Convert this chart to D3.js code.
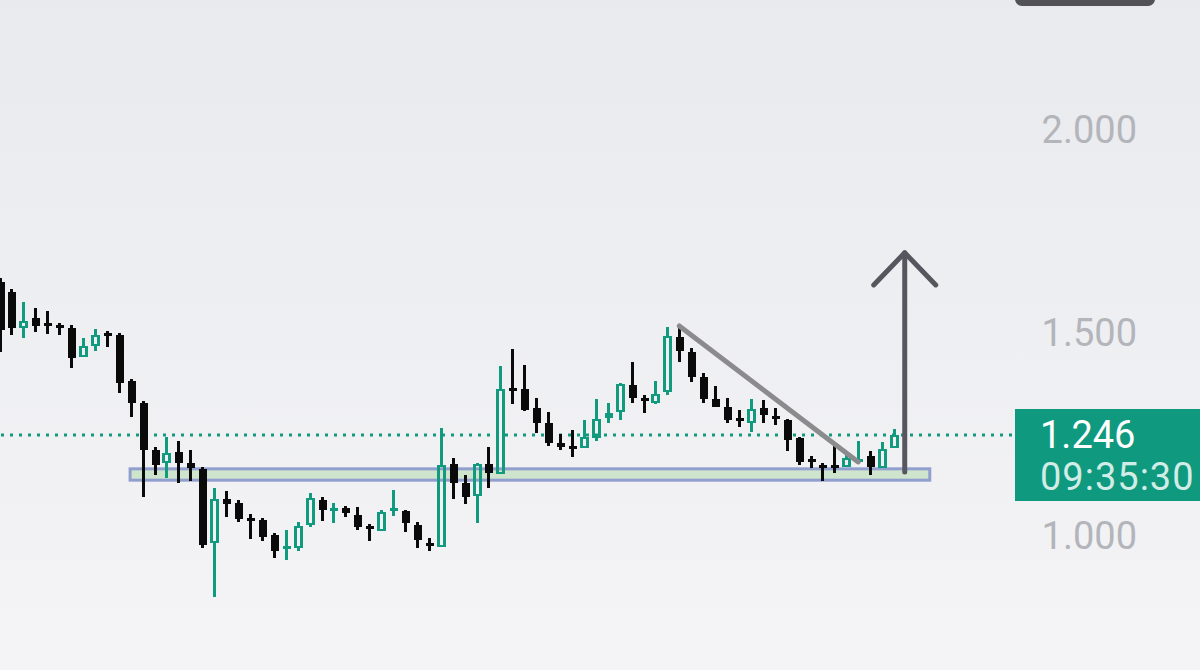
<!DOCTYPE html>
<html>
<head>
<meta charset="utf-8">
<script src="https://cdn.jsdelivr.net/npm/d3@7"></script>
<style>
  html, body { margin: 0; padding: 0; }
  body { width: 1200px; height: 670px; overflow: hidden; }
</style>
</head>
<body>
<svg id="chart" width="1200" height="670"></svg>
<script>
// candle values (one per bar, left to right)
const open = [
  1.623, 1.599, 1.510, 1.534, 1.520, 1.517, 1.510, 1.438, 1.466, 1.498,
  1.493, 1.379, 1.325, 1.209, 1.177, 1.204, 1.177, 1.163, 0.980, 1.089,
  1.079, 1.042, 1.037, 1.000, 0.966, 0.968, 1.025, 1.086, 1.059, 1.067,
  1.049, 1.020, 1.010, 1.059, 1.059, 1.025, 0.980, 0.970, 1.175, 1.128,
  1.096, 1.175, 1.150, 1.362, 1.360, 1.313, 1.276, 1.227, 1.219, 1.214,
  1.239, 1.288, 1.303, 1.369, 1.337, 1.325, 1.352, 1.488, 1.451, 1.389,
  1.335, 1.315, 1.286, 1.276, 1.313, 1.291, 1.283, 1.239, 1.187, 1.172,
  1.170, 1.167, 1.182, 1.195, 1.165, 1.214
];
const high = [
  1.633, 1.606, 1.574, 1.559, 1.552, 1.522, 1.517, 1.485, 1.507, 1.502,
  1.498, 1.384, 1.330, 1.217, 1.241, 1.232, 1.209, 1.167, 1.116, 1.108,
  1.086, 1.052, 1.042, 1.005, 1.012, 1.032, 1.103, 1.094, 1.079, 1.071,
  1.069, 1.027, 1.062, 1.111, 1.062, 1.032, 0.993, 1.264, 1.190, 1.148,
  1.177, 1.217, 1.416, 1.458, 1.419, 1.337, 1.303, 1.249, 1.259, 1.283,
  1.335, 1.325, 1.374, 1.426, 1.345, 1.379, 1.512, 1.515, 1.461, 1.399,
  1.367, 1.337, 1.308, 1.335, 1.333, 1.313, 1.286, 1.241, 1.195, 1.177,
  1.229, 1.207, 1.232, 1.207, 1.229, 1.261
];
const low = [
  1.451, 1.493, 1.485, 1.500, 1.495, 1.493, 1.411, 1.438, 1.453, 1.463,
  1.350, 1.291, 1.094, 1.148, 1.140, 1.128, 1.133, 0.968, 0.847, 1.044,
  1.032, 0.990, 0.985, 0.943, 0.938, 0.961, 1.020, 1.034, 1.030, 1.044,
  1.012, 0.985, 1.010, 1.047, 1.007, 0.968, 0.961, 0.970, 1.089, 1.076,
  1.030, 1.116, 1.150, 1.323, 1.305, 1.251, 1.219, 1.209, 1.192, 1.214,
  1.232, 1.276, 1.283, 1.325, 1.300, 1.323, 1.345, 1.426, 1.377, 1.325,
  1.315, 1.276, 1.266, 1.254, 1.276, 1.271, 1.207, 1.172, 1.165, 1.133,
  1.153, 1.167, 1.180, 1.148, 1.165, 1.214
];
const close = [
  1.505, 1.510, 1.527, 1.515, 1.515, 1.510, 1.436, 1.466, 1.493, 1.490,
  1.374, 1.325, 1.209, 1.172, 1.202, 1.177, 1.165, 0.975, 1.089, 1.076,
  1.039, 1.034, 0.995, 0.961, 0.970, 1.022, 1.091, 1.062, 1.067, 1.054,
  1.020, 1.017, 1.057, 1.067, 1.030, 0.988, 0.973, 1.172, 1.128, 1.094,
  1.175, 1.153, 1.360, 1.357, 1.308, 1.276, 1.227, 1.217, 1.214, 1.241,
  1.286, 1.300, 1.372, 1.337, 1.330, 1.347, 1.490, 1.453, 1.389, 1.335,
  1.315, 1.283, 1.281, 1.310, 1.296, 1.286, 1.234, 1.180, 1.182, 1.167,
  1.165, 1.190, 1.187, 1.167, 1.212, 1.246
];

// axis + price tag
const priceTicks = [1.0, 1.5, 2.0];
const lastPrice = 1.246;
const countdown = '09:35:30';

// drawings: support zone, trend line, arrow (bar index, price)
const zoneBars = [10.95, 78.0];
const zonePrices = [1.135, 1.163];
const trendStart = [57, 1.515];
const trendEnd = [72, 1.180];
const arrowBar = 75.9;
const arrowPrices = [1.155, 1.695];
const arrowWing = [2.6, 1.616];

const green = '#119a7e';
const black = '#0a0a0a';

const svg = d3.select('#chart');

// background
const defs = svg.append('defs');
const grad = defs.append('linearGradient')
  .attr('id', 'bg').attr('x1', 0).attr('y1', 0).attr('x2', 0).attr('y2', 1);
grad.append('stop').attr('offset', '0%').attr('stop-color', '#e9eaee');
grad.append('stop').attr('offset', '100%').attr('stop-color', '#f4f4f6');
svg.append('rect').attr('width', 1200).attr('height', 670).attr('fill', 'url(#bg)');

const x = d3.scaleLinear().domain([0, open.length - 1]).range([-0.5, 894]);
const y = d3.scaleLinear().domain([1.0, 2.0]).range([535, 129]);

// top toolbar stub
svg.append('rect')
  .attr('x', 1015).attr('y', -12).attr('width', 140).attr('height', 18)
  .attr('rx', 7).attr('fill', '#525256');

// support zone
svg.append('rect')
  .attr('x', x(zoneBars[0]))
  .attr('y', y(zonePrices[1]))
  .attr('width', x(zoneBars[1]) - x(zoneBars[0]))
  .attr('height', y(zonePrices[0]) - y(zonePrices[1]))
  .attr('fill', '#cfe4cc')
  .attr('stroke', '#909fce')
  .attr('stroke-width', 3);

// last price dotted line
svg.append('line')
  .attr('x1', 1).attr('x2', 1015)
  .attr('y1', y(lastPrice)).attr('y2', y(lastPrice))
  .attr('stroke', green)
  .attr('stroke-width', 3)
  .attr('stroke-dasharray', '3 6');

// candles
const data = open.map((o, i) => ({
  i, o, h: high[i], l: low[i], c: close[i], up: close[i] >= o
}));
const bodyW = 8;
const g = svg.append('g').attr('shape-rendering', 'crispEdges');

data.forEach(d => {
  const cx = Math.round(x(d.i)) + 0.5;
  const col = d.up ? green : black;
  let top = y(Math.max(d.o, d.c));
  let bot = y(Math.min(d.o, d.c));
  if (bot - top < 3) {
    const m = (top + bot) / 2;
    top = m - 1.5;
    bot = m + 1.5;
  }
  // wicks above and below body
  g.append('line')
    .attr('x1', cx).attr('x2', cx)
    .attr('y1', y(d.h)).attr('y2', top)
    .attr('stroke', col).attr('stroke-width', 2.5);
  g.append('line')
    .attr('x1', cx).attr('x2', cx)
    .attr('y1', bot).attr('y2', y(d.l))
    .attr('stroke', col).attr('stroke-width', 2.5);
  if (d.up && bot - top > 5) {
    g.append('rect')
      .attr('x', cx - bodyW / 2 + 1).attr('y', top + 1)
      .attr('width', bodyW - 2).attr('height', bot - top - 2)
      .attr('fill', 'none')
      .attr('stroke', col).attr('stroke-width', 2.5);
  } else {
    g.append('rect')
      .attr('x', cx - bodyW / 2).attr('y', top)
      .attr('width', bodyW).attr('height', bot - top)
      .attr('fill', col);
  }
});

// trend line
svg.append('line')
  .attr('x1', x(trendStart[0])).attr('y1', y(trendStart[1]))
  .attr('x2', x(trendEnd[0])).attr('y2', y(trendEnd[1]))
  .attr('stroke', '#8b8b8e')
  .attr('stroke-width', 5)
  .attr('stroke-linecap', 'round');

// arrow
const arrow = d3.line()
  .x(d => x(d[0]))
  .y(d => y(d[1]));
const arrowG = svg.append('g')
  .attr('fill', 'none')
  .attr('stroke', '#56565e')
  .attr('stroke-width', 5)
  .attr('stroke-linecap', 'round')
  .attr('stroke-linejoin', 'round');
arrowG.append('path')
  .attr('d', arrow([[arrowBar, arrowPrices[0]], [arrowBar, arrowPrices[1]]]));
arrowG.append('path')
  .attr('d', arrow([
    [arrowBar - arrowWing[0], arrowWing[1]],
    [arrowBar, arrowPrices[1]],
    [arrowBar + arrowWing[0], arrowWing[1]]
  ]));

// price axis
const axis = svg.append('g')
  .attr('transform', 'translate(1137,0)')
  .call(d3.axisRight(y).tickValues(priceTicks).tickFormat(d3.format('.3f')).tickSize(0));
axis.select('.domain').remove();
axis.selectAll('text')
  .attr('x', 0)
  .attr('dy', '0.35em')
  .attr('text-anchor', 'end')
  .attr('fill', '#b3b5bb')
  .attr('font-family', 'Roboto, "Liberation Sans", sans-serif')
  .attr('font-size', 38);

// last price tag
svg.append('rect')
  .attr('x', 1015).attr('y', 409)
  .attr('width', 185).attr('height', 92)
  .attr('fill', '#0f9a7f');
svg.append('text')
  .attr('x', 1040).attr('y', y(lastPrice))
  .attr('dy', '0.35em')
  .attr('fill', '#ffffff')
  .attr('font-family', 'Roboto, "Liberation Sans", sans-serif')
  .attr('font-size', 38)
  .text(d3.format('.3f')(lastPrice));
svg.append('text')
  .attr('x', 1040).attr('y', 477)
  .attr('dy', '0.35em')
  .attr('fill', '#ffffff')
  .attr('fill-opacity', 0.82)
  .attr('font-family', 'Roboto, "Liberation Sans", sans-serif')
  .attr('font-size', 38)
  .attr('letter-spacing', 1)
  .text(countdown);
</script>
</body>
</html>
